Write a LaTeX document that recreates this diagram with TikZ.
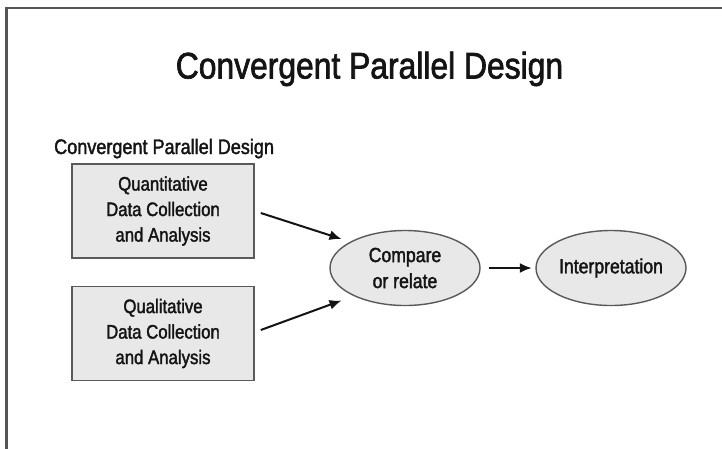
\documentclass[tikz,border=0pt]{standalone}
\usepackage{fontspec}
\setmainfont{Liberation Sans}[FakeStretch=0.86, FakeBold=1.8]
\usetikzlibrary{shapes.geometric,arrows.meta}
\definecolor{framegray}{HTML}{555555}
\definecolor{edgegray}{HTML}{5A5A5A}
\definecolor{fillgray}{HTML}{E8E8E8}
\definecolor{ink}{HTML}{141414}
\tikzset{
  box/.style={draw=edgegray, line width=1.6pt, fill=fillgray, rectangle,
    minimum width=182pt, minimum height=94pt, inner sep=0pt,
    align=center, text=ink, font=\fontsize{19.5}{25.5}\selectfont},
  oval/.style={draw=edgegray, line width=1.4pt, fill=fillgray, ellipse,
    minimum width=150pt, minimum height=75pt, inner sep=0pt,
    align=center, text=ink, font=\fontsize{20.5}{26}\selectfont},
  arr/.style={draw=ink, line width=2pt, -{Latex[length=12pt,width=10pt]}}
}
\begin{document}
\begin{tikzpicture}[x=1pt,y=-1pt]
  \useasboundingbox (0,0) rectangle (722,448);
  \clip (0,0) rectangle (722,448);
  % outer frame (left and top edges)
  \draw[framegray, line width=2.5pt] (6.5,450) -- (6.5,8) -- (724,8);
  % headings
  \node[anchor=base, inner sep=0pt, text=ink, font=\fontsize{37}{40}\selectfont]
    (title) at (369.5,78.5) {Convergent Parallel Design};
  \node[anchor=base west, inner sep=0pt, text=ink, font=\fontsize{21}{22}\selectfont]
    (sub) at (54,154) {Convergent Parallel Design};
  % data strands
  \node[box] (quan) at (163,211) {Quantitative\\Data Collection\\and Analysis};
  \node[box] (qual) at (163,333.5) {Qualitative\\Data Collection\\and Analysis};
  % merging and interpretation
  \node[oval] (cmp) at (405,268) {Compare\\or relate};
  \node[oval] (interp) at (611,268) {Interpretation};
  % connectors
  \draw[arr] ([shift={(6,2)}]quan.east) -- ([shift={(-10,-2)}]cmp.north west);
  \draw[arr] ([shift={(6,-3.5)}]qual.east) -- ([shift={(-10,5.5)}]cmp.south west);
  \draw[arr] ([xshift=8pt]cmp.east) -- ([xshift=-3.5pt]interp.west);
\end{tikzpicture}
\end{document}
